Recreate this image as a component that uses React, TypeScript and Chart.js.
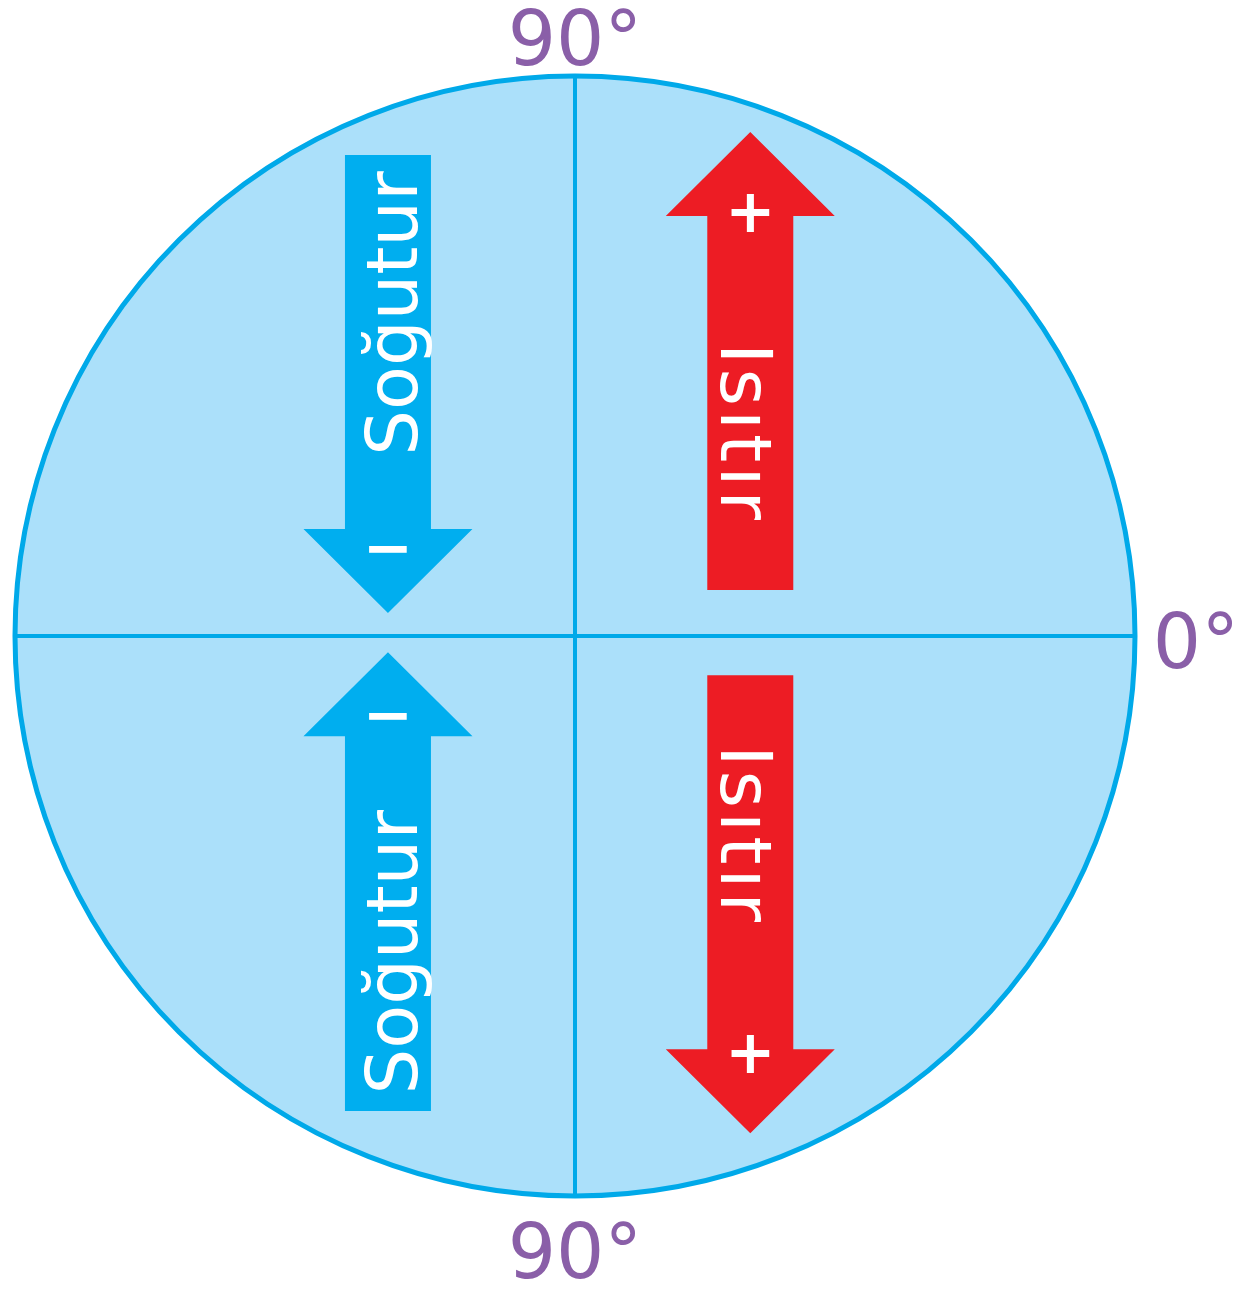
import React, { useEffect, useRef } from "react";
import { Chart, registerables } from "chart.js";

Chart.register(...registerables);

// ---- data (units: circle radius = 100) ----
const circleRadius = [100];
const horizontalAxis = [
  { x: -100, y: 0 },
  { x: 100, y: 0 },
];
const verticalAxis = [
  { x: 0, y: -100 },
  { x: 0, y: 100 },
];
const arrowLabels = ["Soğutur", "Isıtır", "Soğutur", "Isıtır"];
const arrowSigns = ["−", "+", "−", "+"];
const arrowX = [-33.4, 31.3, -33.4, 31.3];
const arrowTail = [85.9, 8.2, -84.8, -7.0];
const arrowTip = [4.1, 90.0, -2.9, -88.8];
const arrowRotation = [-90, 90, -90, 90];
const arrowColors = ["#00aeef", "#ed1c24", "#00aeef", "#ed1c24"];
const angleLabels = ["90°", "0°", "90°"];
const angleLabelX = [0, 110.9, 0];
const angleLabelY = [102, -5.7, -114.6];

const FILL = "#abe0fa";
const LINE = "#00a9e9";
const PURPLE = "#8a5fa8";
const FONT = '"DejaVu Sans", sans-serif';

const circlePlugin = {
  id: "circleBg",
  beforeDatasetsDraw(chart: any) {
    const { ctx, scales } = chart;
    const cx = scales.x.getPixelForValue(0);
    const cy = scales.y.getPixelForValue(0);
    const r = scales.x.getPixelForValue(circleRadius[0]) - cx;
    ctx.save();
    ctx.beginPath();
    ctx.arc(cx, cy, r, 0, Math.PI * 2);
    ctx.fillStyle = FILL;
    ctx.fill();
    ctx.restore();
  },
  afterDatasetsDraw(chart: any) {
    const { ctx, scales } = chart;
    const cx = scales.x.getPixelForValue(0);
    const cy = scales.y.getPixelForValue(0);
    const r = scales.x.getPixelForValue(circleRadius[0]) - cx;
    ctx.save();
    ctx.beginPath();
    ctx.arc(cx, cy, r, 0, Math.PI * 2);
    ctx.strokeStyle = LINE;
    ctx.lineWidth = 5;
    ctx.stroke();

    // arrows
    const shaftHalf = 43;
    const headHalf = 84.5;
    const headLen = 84;
    for (let i = 0; i < arrowLabels.length; i++) {
      const px = scales.x.getPixelForValue(arrowX[i]);
      const y0 = scales.y.getPixelForValue(arrowTail[i]);
      const y1 = scales.y.getPixelForValue(arrowTip[i]);
      const dir = y1 > y0 ? 1 : -1;
      const hb = y1 - dir * headLen;
      ctx.beginPath();
      ctx.moveTo(px - shaftHalf, y0);
      ctx.lineTo(px - shaftHalf, hb);
      ctx.lineTo(px - headHalf, hb);
      ctx.lineTo(px, y1);
      ctx.lineTo(px + headHalf, hb);
      ctx.lineTo(px + shaftHalf, hb);
      ctx.lineTo(px + shaftHalf, y0);
      ctx.closePath();
      ctx.fillStyle = arrowColors[i];
      ctx.fill();

      // label
      const ty = y0 + 0.346 * (y1 - y0);
      ctx.save();
      ctx.translate(px, ty);
      ctx.rotate((arrowRotation[i] * Math.PI) / 180);
      ctx.fillStyle = "#ffffff";
      ctx.font = `72px ${FONT}`;
      ctx.textAlign = "center";
      ctx.textBaseline = "alphabetic";
      const w = ctx.measureText(arrowLabels[i]).width;
      const target = arrowLabels[i].length === 6 ? 177 : 0;
      if (target > w) {
        const sp = (target - w) / (arrowLabels[i].length - 1);
        (ctx as any).letterSpacing = `${sp}px`;
        ctx.textAlign = "left";
        ctx.fillText(arrowLabels[i], -target / 2, 29);
        (ctx as any).letterSpacing = "0px";
      } else {
        ctx.fillText(arrowLabels[i], 0, 29);
      }
      ctx.restore();

      // sign
      const f = arrowSigns[i] === "+" ? 0.825 : 0.86;
      const sy = y0 + f * (y1 - y0);
      ctx.font = `bold 60px ${FONT}`;
      ctx.textAlign = "center";
      ctx.textBaseline = "alphabetic";
      const m = ctx.measureText(arrowSigns[i]);
      const off = (m.actualBoundingBoxAscent - m.actualBoundingBoxDescent) / 2;
      ctx.fillStyle = "#ffffff";
      ctx.fillText(arrowSigns[i], px, sy + off);
    }

    // angle labels
    ctx.fillStyle = PURPLE;
    ctx.font = `76px ${FONT}`;
    ctx.textAlign = "center";
    ctx.textBaseline = "alphabetic";
    for (let i = 0; i < angleLabels.length; i++) {
      ctx.fillText(
        angleLabels[i],
        scales.x.getPixelForValue(angleLabelX[i]),
        scales.y.getPixelForValue(angleLabelY[i])
      );
    }
    ctx.restore();
  },
};

export default function App() {
  const ref = useRef<HTMLCanvasElement | null>(null);
  useEffect(() => {
    if (!ref.current) return;
    const chart = new Chart(ref.current, {
      type: "scatter",
      data: {
        datasets: [
          {
            data: horizontalAxis,
            showLine: true,
            borderColor: LINE,
            borderWidth: 4,
            pointRadius: 0,
          },
          {
            data: verticalAxis,
            showLine: true,
            borderColor: LINE,
            borderWidth: 4,
            pointRadius: 0,
          },
        ],
      },
      options: {
        responsive: false,
        animation: false,
        layout: { padding: 0 },
        plugins: { legend: { display: false }, tooltip: { enabled: false } },
        scales: {
          x: { type: "linear", display: false, min: -575 / 5.6, max: (1239 - 575) / 5.6 },
          y: { type: "linear", display: false, min: -(1292 - 636) / 5.6, max: 636 / 5.6 },
        },
      },
      plugins: [circlePlugin],
    });
    return () => chart.destroy();
  }, []);
  return (
    <div style={{ position: "absolute", left: 0, top: 0, width: 1239, height: 1292, background: "#ffffff" }}>
      <canvas ref={ref} width={1239} height={1292} style={{ display: "block" }} />
    </div>
  );
}
